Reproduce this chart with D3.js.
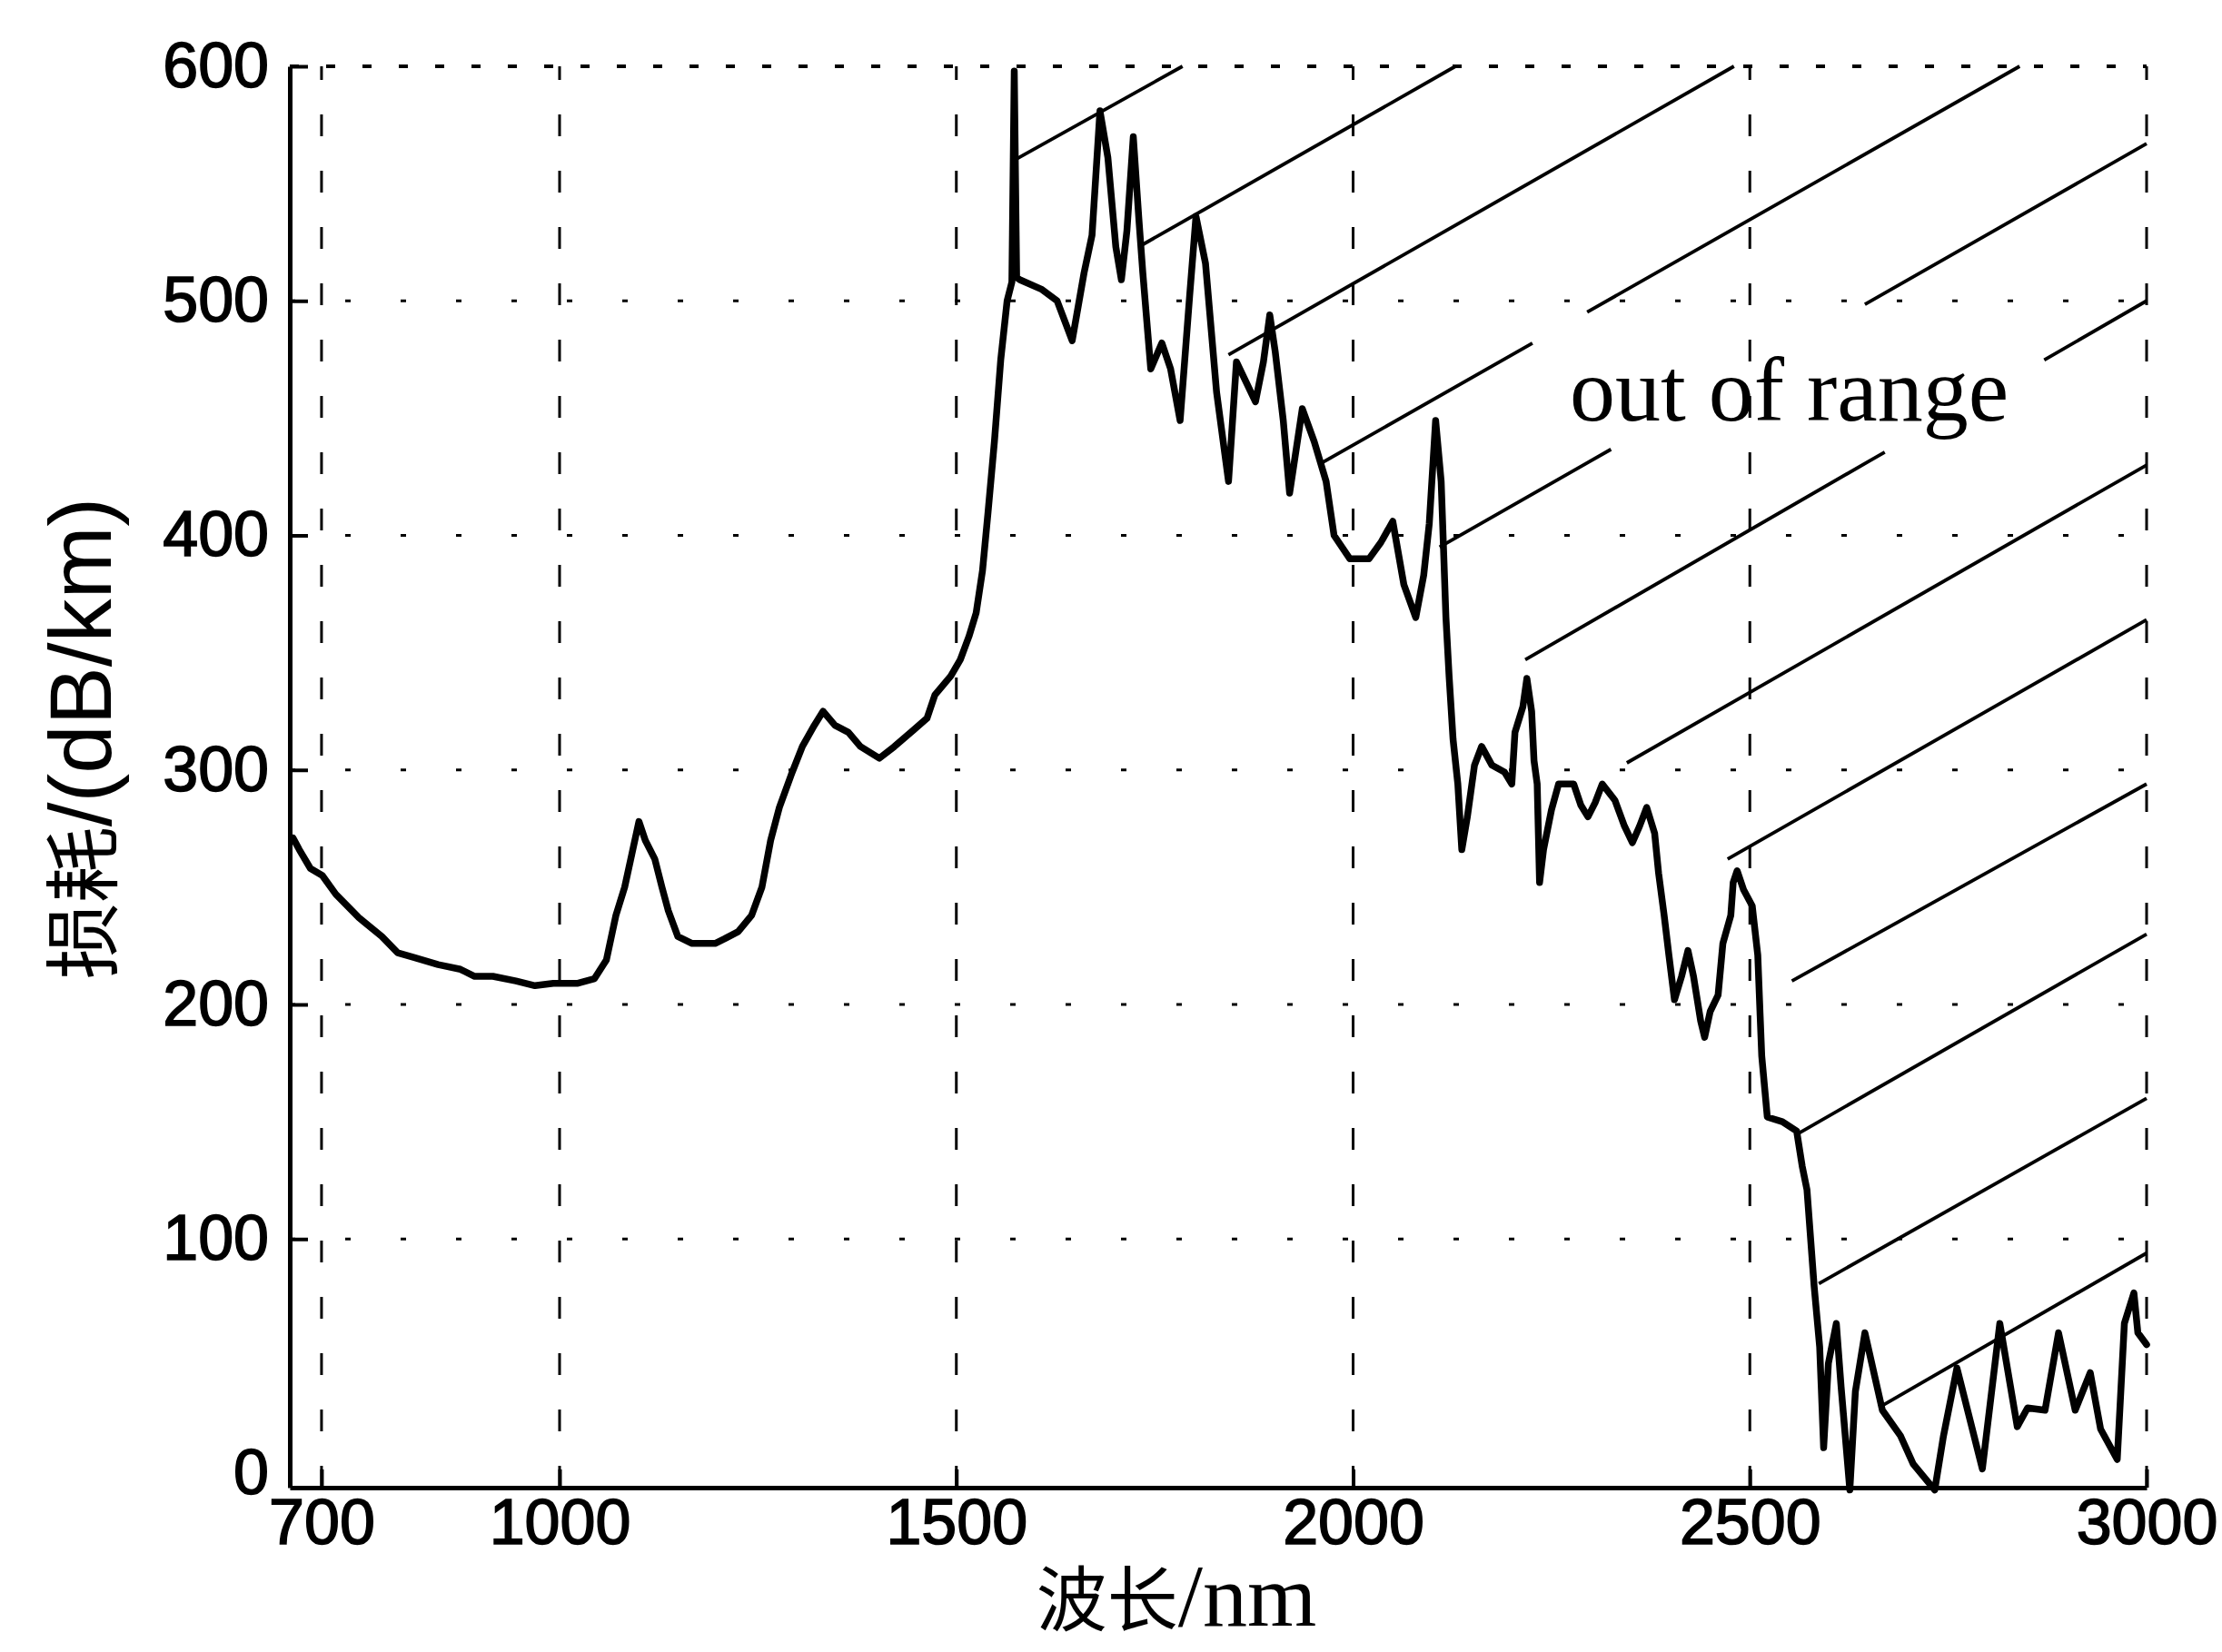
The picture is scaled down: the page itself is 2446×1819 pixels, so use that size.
<!DOCTYPE html>
<html><head><meta charset="utf-8">
<script src="https://cdn.jsdelivr.net/npm/d3@7"></script>
<style>
html,body{margin:0;padding:0;background:#fff;}
svg{display:block;}
</style></head>
<body>
<script>
// ---- data ----
const wavelength = [664,672,686,701,718,747,776,796,817,847,875,893,916,945,969,992,1022,1044,1059,1071,1082,1091,1100,1108,1120,1129,1137,1149,1167,1196,1208,1225,1242,1255,1266,1277,1292,1306,1321,1332,1347,1364,1379,1403,1422,1446,1463,1473,1493,1505,1516,1525,1533,1540,1548,1556,1564,1570,1573,1576,1580,1607,1627,1646,1661,1671,1681,1691,1701,1708,1715,1723,1730,1735,1745,1759,1770,1782,1794,1802,1814,1828,1843,1853,1877,1887,1895,1902,1912,1920,1936,1951,1966,1976,1996,2020,2035,2050,2064,2079,2089,2096,2104,2111,2117,2121,2126,2132,2137,2144,2153,2162,2175,2191,2200,2204,2214,2219,2225,2228,2232,2235,2240,2250,2259,2278,2287,2296,2305,2314,2330,2342,2352,2361,2370,2380,2385,2392,2398,2405,2414,2422,2429,2438,2443,2450,2460,2466,2476,2479,2484,2492,2503,2510,2513,2515,2522,2541,2559,2566,2572,2581,2588,2593,2599,2609,2615,2626,2633,2645,2667,2690,2706,2733,2744,2761,2793,2815,2837,2850,2872,2889,2910,2929,2942,2963,2972,2984,2989,3000];
const loss = [271,266,258,255,247,237,229,222,220,217,215,212,212,210,208,209,209,211,219,238,250,264,278,270,262,250,240,229,226,226,228,231,238,250,270,284,298,310,319,325,319,316,310,305,310,317,322,332,340,347,357,367,385,410,440,475,500,508,598,510,509,505,500,483,512,528,581,561,523,509,530,570,535,512,471,482,471,449,502,536,516,461,423,474,457,474,494,478,449,418,454,440,423,400,390,390,397,406,379,365,383,405,449,423,365,340,313,294,266,280,302,310,302,299,294,316,327,339,325,304,294,252,266,283,294,294,285,280,286,294,287,276,269,276,284,273,256,238,221,202,212,223,212,193,186,197,204,226,238,252,257,249,242,221,195,178,152,150,146,131,121,80,54,11,47,64,37,-7,35,60,27,16,4,-7,16,45,2,64,20,28,27,60,27,43,19,6,64,77,60,55];

// hatching of the "out of range" region: start (on curve) and end (on frame), data units
const hatchX0 = [1573,1735,1843,1961,2109,2217,2345,2472,2553,2561,2587,2667];
const hatchY0 = [560,524,477,431,395,347,303,262,210,145,81,29];
const hatchX1 = [1785,2129,2480,2840,3000,3000,3000,3000,3000,3000,3000,3000];
const hatchY1 = [600,600,600,600,567,500,430,364,294,230,160,94];
const hatchGapFrom = [null,null,null,2226,2325,2670,null,null,null,null,null,null];
const hatchGapTo   = [null,null,null,2295,2645,2871,null,null,null,null,null,null];

const xTicks = [700,1000,1500,2000,2500,3000];
const yTicks = [0,100,200,300,400,500,600];
const xDomain = [660,3000];
const yDomain = [-6,600];

const annotationText = "out of range";
const annotationPos = [2273,449];

// ---- drawing ----
const W = 2446, H = 1819;
const M = {left:319, right:2363, top:73, bottom:1638};
const svg = d3.select("body").append("svg").attr("width",W).attr("height",H);
svg.append("rect").attr("width",W).attr("height",H).attr("fill","#fff");

const x = d3.scaleLinear().domain(xDomain).range([M.left,M.right]);
const y = d3.scaleLinear().domain(yDomain).range([M.bottom,M.top]);

// grid lines
const grid = svg.append("g").attr("stroke","#000").attr("fill","none");
grid.selectAll("line.v").data(xTicks.filter(d=>d>xDomain[0])).join("line")
  .attr("class","v")
  .attr("x1",d=>x(d)).attr("x2",d=>x(d))
  .attr("y1",y(yDomain[0])).attr("y2",y(600))
  .attr("stroke-width",3).attr("stroke-dasharray","24 38");
grid.selectAll("line.h").data(yTicks.filter(d=>d>0)).join("line")
  .attr("class","h")
  .attr("x1",x(xDomain[0])).attr("x2",x(3000))
  .attr("y1",d=>y(d)).attr("y2",d=>y(d))
  .attr("stroke-width",d=>d===600?4:3)
  .attr("stroke-dasharray",d=>d===600?"10 30":"6 55");

// hatch lines
const hatch = svg.append("g").attr("stroke","#000").attr("stroke-width",3.8).attr("fill","none");
hatchX0.forEach((x0,i)=>{
  const px0=x(x0), py0=y(hatchY0[i]), px1=x(hatchX1[i]), py1=y(hatchY1[i]);
  const L=Math.hypot(px1-px0,py1-py0);
  const ln=hatch.append("line").attr("x1",px0).attr("y1",py0).attr("x2",px1).attr("y2",py1);
  if(hatchGapFrom[i]!==null){
    const t1=(hatchGapFrom[i]-x0)/(hatchX1[i]-x0), t2=(hatchGapTo[i]-x0)/(hatchX1[i]-x0);
    ln.attr("stroke-dasharray",`${t1*L} ${(t2-t1)*L} ${L}`);
  }
});

// axes
const tickFont = "'Liberation Sans', Arial, sans-serif";
const xAxis = d3.axisBottom(x).tickValues(xTicks).tickFormat(d3.format("d"))
  .tickSizeInner(-20).tickSizeOuter(0).tickPadding(12);
const yAxis = d3.axisLeft(y).tickValues(yTicks).tickFormat(d3.format("d"))
  .tickSizeInner(-20).tickSizeOuter(0).tickPadding(23);
const gx = svg.append("g").attr("transform",`translate(0,${M.bottom})`).call(xAxis);
const gy = svg.append("g").attr("transform",`translate(${M.left},0)`).call(yAxis);
[gx,gy].forEach(g=>{
  g.select(".domain").attr("stroke","#000").attr("stroke-width",5);
  g.selectAll(".tick line").attr("stroke","#000").attr("stroke-width",4);
  g.selectAll(".tick text").attr("fill","#000").attr("font-family",tickFont).attr("font-size",70)
    .attr("stroke","#000").attr("stroke-width",1.6);
});
gy.selectAll(".tick").filter(d=>d===0).select("line").remove();

// curve
const line = d3.line().x((d,i)=>x(wavelength[i])).y(d=>y(d)).curve(d3.curveLinear);
svg.append("path").datum(loss).attr("d",line)
  .attr("fill","none").attr("stroke","#000").attr("stroke-width",7.5)
  .attr("stroke-linejoin","round").attr("stroke-linecap","round");

// annotation
svg.append("text").attr("x",x(annotationPos[0])).attr("y",y(annotationPos[1]))
  .attr("font-family","'Liberation Serif','Times New Roman',serif").attr("font-size",100)
  .attr("fill","#000").text(annotationText);

// axis titles
const yl = svg.append("text").attr("transform","translate(122,813) rotate(-90)")
  .attr("text-anchor","middle").attr("fill","#000");
yl.append("tspan").attr("font-family","'Noto Sans CJK SC',sans-serif").attr("font-size",84).text("损耗");
yl.append("tspan").attr("font-family",tickFont).attr("font-size",96).text("/(dB/km)");

const xl = svg.append("text").attr("x",1295).attr("y",1790)
  .attr("text-anchor","middle").attr("fill","#000");
xl.append("tspan").attr("font-family","'Noto Sans CJK SC',sans-serif").attr("font-size",78).text("波长");
xl.append("tspan").attr("font-family","'Liberation Serif','Times New Roman',serif").attr("font-size",98).text("/nm");
</script>
</body></html>
